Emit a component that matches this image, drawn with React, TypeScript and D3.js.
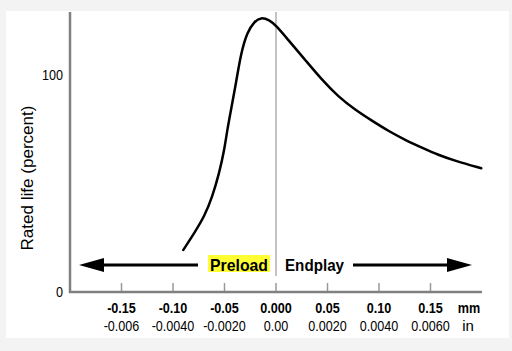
import React, { useEffect, useRef } from 'react';
import * as d3 from 'd3';

// curve: axial clearance (mm) vs rated life (percent)
const clearanceMm = [-0.090, -0.0793, -0.0696, -0.0618, -0.0551, -0.0502, -0.0473, -0.0437, -0.0388, -0.034, -0.0279, -0.0211, -0.0146, -0.0065, 0, 0.0119, 0.0284, 0.0447, 0.0605, 0.077, 0.0932, 0.109, 0.1256, 0.1417, 0.1576, 0.174, 0.1993];
const ratedLife = [19.4, 27.2, 34.7, 43.9, 54.8, 65.4, 74.7, 83.9, 96.3, 110.1, 119.8, 124.6, 126.6, 125.3, 122.8, 116.1, 106.9, 97.7, 90.0, 83.9, 78.9, 74.2, 70.0, 66.5, 63.1, 60.4, 57.0];

const mmTicks = [-0.15, -0.10, -0.05, 0, 0.05, 0.10, 0.15];
const mmLabels = ['-0.15', '-0.10', '-0.05', '0.000', '0.05', '0.10', '0.15'];
const inLabels = ['-0.006', '-0.0040', '-0.0020', '0.00', '0.0020', '0.0040', '0.0060'];
const yTicks = [0, 100];

const FONT = "'Liberation Sans', Arial, sans-serif";

// squeeze text horizontally to mimic the condensed face of the original
const condense = (sel: d3.Selection<SVGTextElement, any, any, any>, f: number) => {
  sel.each(function () {
    const w = this.getComputedTextLength();
    d3.select(this).attr('textLength', w * f).attr('lengthAdjust', 'spacingAndGlyphs');
  });
};

const App: React.FC = () => {
  const chartRef = useRef<SVGSVGElement | null>(null);

  useEffect(() => {
    document.body.style.margin = '0';
    const svg = d3.select(chartRef.current);
    svg.selectAll('*').remove();

    svg.append('rect').attr('width', 512).attr('height', 351).attr('fill', '#f3f3f3');
    svg.append('rect').attr('x', 6).attr('y', 11).attr('width', 503).attr('height', 327).attr('fill', '#fff');

    const x = d3.scaleLinear().domain([-0.2, 0.2]).range([70, 482]);
    const y = d3.scaleLinear().domain([0, 129]).range([292, 12]);

    // zero line
    svg.append('line')
      .attr('x1', x(0)).attr('x2', x(0))
      .attr('y1', y(129)).attr('y2', 276)
      .attr('stroke', '#888').attr('stroke-width', 1);

    // ticks
    svg.selectAll('.tick')
      .data(mmTicks)
      .enter().append('line')
      .attr('x1', d => x(d)).attr('x2', d => x(d))
      .attr('y1', y(0) - 9).attr('y2', y(0))
      .attr('stroke', '#999').attr('stroke-width', 1.5);

    // axes
    svg.append('path')
      .attr('d', `M${x(-0.2)},${y(129)}V${y(0)}H${x(0.2)}`)
      .attr('fill', 'none').attr('stroke', '#808080').attr('stroke-width', 2.5);

    const mm = svg.selectAll('.mm')
      .data(mmTicks)
      .enter().append('text')
      .attr('x', d => x(d)).attr('y', 313)
      .attr('text-anchor', 'middle')
      .attr('font-family', FONT).attr('font-weight', 'bold').attr('font-size', 15)
      .text((d, i) => mmLabels[i]);
    condense(mm as any, 0.84);

    const inch = svg.selectAll('.inch')
      .data(mmTicks)
      .enter().append('text')
      .attr('x', d => x(d)).attr('y', 331)
      .attr('text-anchor', 'middle')
      .attr('font-family', FONT).attr('font-size', 15)
      .text((d, i) => inLabels[i]);
    condense(inch as any, 0.84);

    const mmUnit = svg.append('text').attr('x', 469).attr('y', 313).attr('text-anchor', 'middle')
      .attr('font-family', FONT).attr('font-weight', 'bold').attr('font-size', 15).text('mm');
    condense(mmUnit as any, 0.84);
    svg.append('text').attr('x', 468).attr('y', 331).attr('text-anchor', 'middle')
      .attr('font-family', FONT).attr('font-size', 15).text('in');

    const ylab = svg.selectAll('.ylab')
      .data(yTicks)
      .enter().append('text')
      .attr('x', 63).attr('y', d => y(d) + 5)
      .attr('text-anchor', 'end')
      .attr('font-family', FONT).attr('font-size', 15)
      .text(d => d);
    condense(ylab as any, 0.84);

    svg.append('text')
      .attr('transform', `translate(33,178) rotate(-90)`)
      .attr('text-anchor', 'middle')
      .attr('font-family', FONT).attr('font-size', 17)
      .attr('textLength', 145).attr('lengthAdjust', 'spacingAndGlyphs')
      .text('Rated life (percent)');

    // curve
    const line = d3.line<number>()
      .x(d => x(d))
      .y((d, i) => y(ratedLife[i]))
      .curve(d3.curveBasis);
    svg.append('path')
      .attr('d', line(clearanceMm))
      .attr('fill', 'none').attr('stroke', '#000').attr('stroke-width', 2.5)
      .attr('stroke-linejoin', 'round').attr('stroke-linecap', 'round');

    // preload / endplay arrows
    const ay = 265;
    svg.append('rect').attr('x', 208).attr('y', 255).attr('width', 62).attr('height', 17).attr('fill', '#ffff33');
    svg.append('text').attr('x', 210).attr('y', 271)
      .attr('font-family', FONT).attr('font-weight', 'bold').attr('font-size', 17)
      .attr('textLength', 58).attr('lengthAdjust', 'spacingAndGlyphs').text('Preload');
    svg.append('text').attr('x', 285).attr('y', 271)
      .attr('font-family', FONT).attr('font-weight', 'bold').attr('font-size', 17)
      .attr('textLength', 59).attr('lengthAdjust', 'spacingAndGlyphs').text('Endplay');

    svg.append('line').attr('x1', 198).attr('x2', 100).attr('y1', ay).attr('y2', ay)
      .attr('stroke', '#000').attr('stroke-width', 3);
    svg.append('path').attr('d', `M79,${ay}L104,${ay - 7}L104,${ay + 7}Z`).attr('fill', '#000');
    svg.append('line').attr('x1', 353).attr('x2', 450).attr('y1', ay).attr('y2', ay)
      .attr('stroke', '#000').attr('stroke-width', 3);
    svg.append('path').attr('d', `M472,${ay}L447,${ay - 7}L447,${ay + 7}Z`).attr('fill', '#000');
  }, []);

  return <svg ref={chartRef} width={512} height={351} style={{ display: 'block' }}></svg>;
};

export default App;
